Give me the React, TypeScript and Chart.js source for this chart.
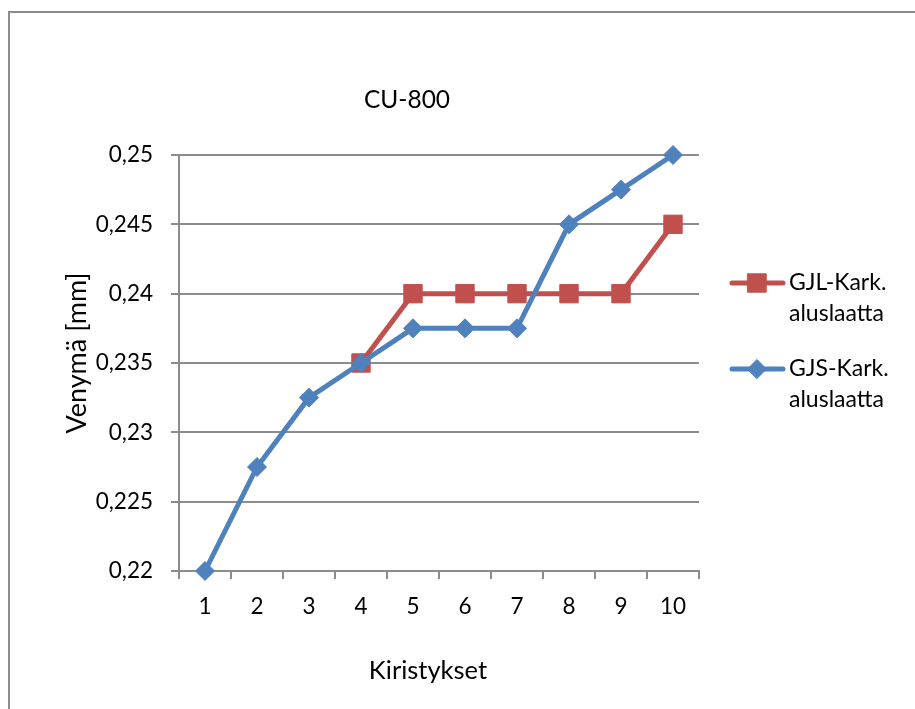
import React, { useEffect, useRef } from 'react';
import { Chart, registerables } from 'chart.js';
import { drawPoint } from 'chart.js/helpers';

Chart.register(...registerables);

// Tightening rounds on the x axis
const categories = ['1', '2', '3', '4', '5', '6', '7', '8', '9', '10'];

// Elongation in mm per tightening round
const gjlValues = [null, null, null, 0.235, 0.24, 0.24, 0.24, 0.24, 0.24, 0.245];
const gjsValues = [0.22, 0.2275, 0.2325, 0.235, 0.2375, 0.2375, 0.2375, 0.245, 0.2475, 0.25];

const yTickLabels = ['0,22', '0,225', '0,23', '0,235', '0,24', '0,245', '0,25'];

const gjlName = ['GJL-Kark.', 'aluslaatta'];
const gjsName = ['GJS-Kark.', 'aluslaatta'];

const chartTitle = 'CU-800';
const xAxisTitle = 'Kiristykset';
const yAxisTitle = 'Venymä [mm]';

const RED = '#C0504D';
const BLUE = '#4F81BD';
const GRID = '#8c8c8c';
const FONT = 'Lato, "Open Sans", sans-serif';

// Outer frame, titles and a two-line legend drawn on the canvas
const decorations = {
  id: 'decorations',
  beforeDraw(chart: any) {
    const ctx = chart.ctx;
    ctx.save();
    ctx.fillStyle = '#ffffff';
    ctx.fillRect(0, 0, chart.width, chart.height);
    ctx.strokeStyle = GRID;
    ctx.lineWidth = 2;
    ctx.strokeRect(9, 12, chart.width + 40, chart.height + 40);
    ctx.restore();
  },
  afterDraw(chart: any) {
    const ctx = chart.ctx;
    ctx.save();
    ctx.fillStyle = '#000000';
    ctx.textAlign = 'center';
    ctx.textBaseline = 'alphabetic';

    ctx.font = `24.5px ${FONT}`;
    ctx.fillText(chartTitle, 407, 108);

    ctx.font = `25.5px ${FONT}`;
    ctx.fillText(xAxisTitle, 428, 679);

    ctx.font = `27px ${FONT}`;
    ctx.save();
    ctx.translate(86, 353);
    ctx.rotate(-Math.PI / 2);
    ctx.fillText(yAxisTitle, 0, 0);
    ctx.restore();

    // Legend entries: GJL first, then GJS
    const entries = [
      { ds: chart.data.datasets[1], name: gjlName, y: 283 },
      { ds: chart.data.datasets[0], name: gjsName, y: 369 },
    ];
    entries.forEach(({ ds, name, y }) => {
      ctx.strokeStyle = ds.borderColor;
      ctx.lineWidth = ds.borderWidth;
      ctx.lineCap = 'round';
      ctx.beginPath();
      ctx.moveTo(732, y);
      ctx.lineTo(783, y);
      ctx.stroke();

      ctx.fillStyle = ds.pointBackgroundColor;
      ctx.strokeStyle = ds.pointBorderColor;
      ctx.lineWidth = ds.pointBorderWidth;
      drawPoint(ctx, {
        pointStyle: ds.pointStyle,
        radius: ds.pointRadius,
        rotation: 0,
        borderWidth: ds.pointBorderWidth,
      }, 757, y);

      ctx.fillStyle = '#000000';
      ctx.font = `23px ${FONT}`;
      ctx.textAlign = 'left';
      ctx.textBaseline = 'middle';
      name.forEach((line: string, i: number) => {
        ctx.fillText(line, 789, y + i * 31);
      });
    });
    ctx.restore();
  },
};

export default function App() {
  const canvasRef = useRef<HTMLCanvasElement | null>(null);

  useEffect(() => {
    if (!canvasRef.current) return;
    const chart = new Chart(canvasRef.current, {
      type: 'line',
      data: {
        labels: categories,
        datasets: [
          {
            label: gjsName.join(' '),
            data: gjsValues,
            borderColor: BLUE,
            backgroundColor: BLUE,
            borderWidth: 5,
            pointStyle: 'rectRot',
            pointRadius: 9.5,
            pointBackgroundColor: BLUE,
            pointBorderColor: BLUE,
            pointBorderWidth: 1,
            tension: 0,
            clip: false,
            order: 0,
          },
          {
            label: gjlName.join(' '),
            data: gjlValues,
            borderColor: RED,
            backgroundColor: RED,
            borderWidth: 5,
            pointStyle: 'rect',
            pointRadius: 13,
            pointBackgroundColor: RED,
            pointBorderColor: RED,
            pointBorderWidth: 1,
            tension: 0,
            clip: false,
            order: 1,
          },
        ],
      },
      options: {
        responsive: false,
        animation: false,
        devicePixelRatio: 1,
        layout: { padding: { left: 0, top: 155, right: 216, bottom: 0 } },
        plugins: {
          legend: { display: false },
          title: { display: false },
          tooltip: { enabled: false },
        },
        scales: {
          x: {
            type: 'category',
            offset: true,
            grid: {
              offset: true,
              drawOnChartArea: false,
              drawTicks: true,
              tickLength: 8,
              color: GRID,
              lineWidth: 2,
            },
            border: { color: GRID, width: 2 },
            ticks: {
              color: '#000000',
              font: { size: 22.5, family: FONT },
              padding: 14,
              maxRotation: 0,
              autoSkip: false,
            },
            afterFit: (s: any) => {
              s.height = 138;
            },
          },
          y: {
            min: 0.22,
            max: 0.25,
            grid: { color: GRID, lineWidth: 2, tickLength: 8, drawTicks: true },
            border: { color: GRID, width: 2 },
            ticks: {
              stepSize: 0.005,
              padding: 18,
              color: '#000000',
              font: { size: 22.5, family: FONT },
              callback: (_v: any, i: number) => yTickLabels[i],
            },
            afterFit: (s: any) => {
              s.width = 179;
            },
          },
        },
      },
      plugins: [decorations],
    } as any);
    return () => chart.destroy();
  }, []);

  return (
    <div style={{ position: 'absolute', left: 0, top: 0, width: 915, height: 709 }}>
      <canvas ref={canvasRef} width={915} height={709} style={{ display: 'block' }} />
    </div>
  );
}
